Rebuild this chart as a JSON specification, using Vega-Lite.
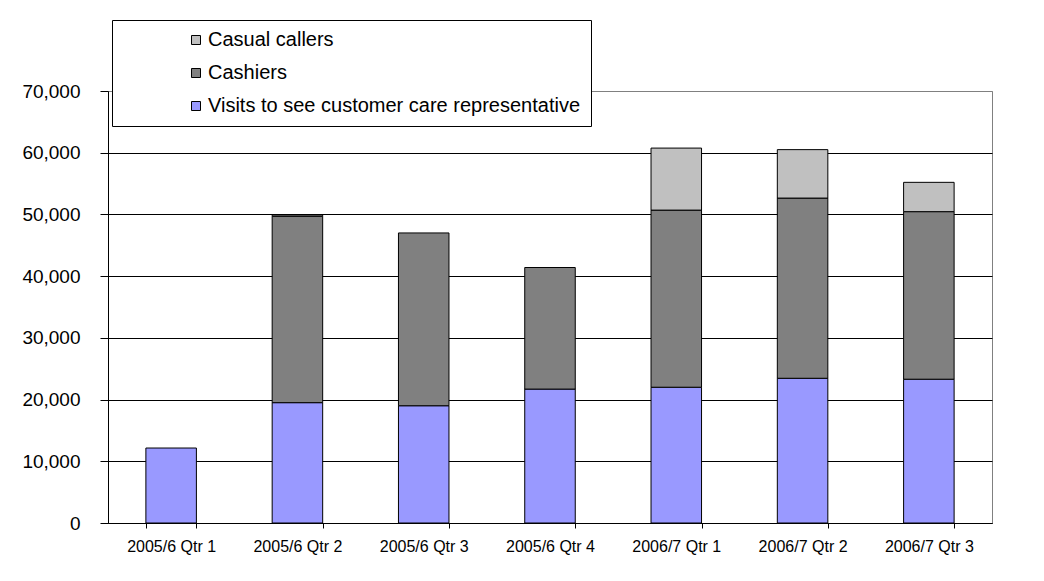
{
  "$schema": "https://vega.github.io/schema/vega-lite/v6.json",
  "width": 884,
  "height": 432,
  "autosize": "none",
  "padding": {"left": 108, "top": 91, "right": 52, "bottom": 58},
  "background": "white",
  "data": {
    "values": [
      {"quarter": "2005/6 Qtr 1", "series": "Visits to see customer care representative", "value": 12150},
      {"quarter": "2005/6 Qtr 2", "series": "Visits to see customer care representative", "value": 19500},
      {"quarter": "2005/6 Qtr 2", "series": "Cashiers", "value": 30200},
      {"quarter": "2005/6 Qtr 2", "series": "Casual callers", "value": 200},
      {"quarter": "2005/6 Qtr 3", "series": "Visits to see customer care representative", "value": 19000},
      {"quarter": "2005/6 Qtr 3", "series": "Cashiers", "value": 28000},
      {"quarter": "2005/6 Qtr 4", "series": "Visits to see customer care representative", "value": 21700},
      {"quarter": "2005/6 Qtr 4", "series": "Cashiers", "value": 19700},
      {"quarter": "2006/7 Qtr 1", "series": "Visits to see customer care representative", "value": 22000},
      {"quarter": "2006/7 Qtr 1", "series": "Cashiers", "value": 28700},
      {"quarter": "2006/7 Qtr 1", "series": "Casual callers", "value": 10050},
      {"quarter": "2006/7 Qtr 2", "series": "Visits to see customer care representative", "value": 23450},
      {"quarter": "2006/7 Qtr 2", "series": "Cashiers", "value": 29200},
      {"quarter": "2006/7 Qtr 2", "series": "Casual callers", "value": 7850},
      {"quarter": "2006/7 Qtr 3", "series": "Visits to see customer care representative", "value": 23300},
      {"quarter": "2006/7 Qtr 3", "series": "Cashiers", "value": 27150},
      {"quarter": "2006/7 Qtr 3", "series": "Casual callers", "value": 4750}
    ]
  },
  "transform": [
    {"calculate": "indexof(['Visits to see customer care representative', 'Cashiers', 'Casual callers'], datum.series)", "as": "stackOrder"}
  ],
  "mark": {"type": "bar", "stroke": "black", "strokeWidth": 1},
  "encoding": {
    "x": {
      "field": "quarter",
      "type": "nominal",
      "sort": null,
      "scale": {"paddingInner": 0.6, "paddingOuter": 0.3},
      "axis": {
        "title": null,
        "labelAngle": 0,
        "labelFontSize": 16,
        "labelColor": "black",
        "labelPadding": 10,
        "tickBand": "extent",
        "tickSize": 5,
        "tickColor": "black",
        "domainColor": "black",
        "grid": false
      }
    },
    "y": {
      "field": "value",
      "type": "quantitative",
      "stack": "zero",
      "scale": {"domain": [0, 70000], "nice": false},
      "axis": {
        "title": null,
        "values": [0, 10000, 20000, 30000, 40000, 50000, 60000, 70000],
        "format": ",.0f",
        "labelFontSize": 19,
        "labelColor": "black",
        "labelPadding": 20,
        "tickSize": 8,
        "tickColor": "black",
        "domainColor": "black",
        "grid": true,
        "gridColor": {"condition": {"test": "datum.value === 70000", "value": "#808080"}, "value": "black"},
        "gridOpacity": 1
      }
    },
    "order": {"field": "stackOrder", "type": "quantitative", "sort": "ascending"},
    "color": {
      "field": "series",
      "type": "nominal",
      "scale": {
        "domain": ["Visits to see customer care representative", "Cashiers", "Casual callers"],
        "range": ["#9999FF", "#808080", "#C0C0C0"]
      },
      "legend": {
        "orient": "none",
        "legendX": 4,
        "legendY": -71,
        "title": null,
        "values": ["Casual callers", "Cashiers", "Visits to see customer care representative"],
        "fillColor": "white",
        "strokeColor": "black",
        "padding": 10,
        "rowPadding": 13,
        "labelFontSize": 20,
        "labelColor": "black",
        "labelLimit": 600,
        "labelOffset": 2,
        "symbolOffset": 64,
        "symbolType": "square",
        "symbolSize": 81,
        "symbolStrokeColor": "black",
        "symbolStrokeWidth": 1,
        "symbolOpacity": 1
      }
    }
  },
  "config": {
    "font": "Liberation Sans",
    "view": {"stroke": "#808080", "strokeWidth": 1}
  }
}
